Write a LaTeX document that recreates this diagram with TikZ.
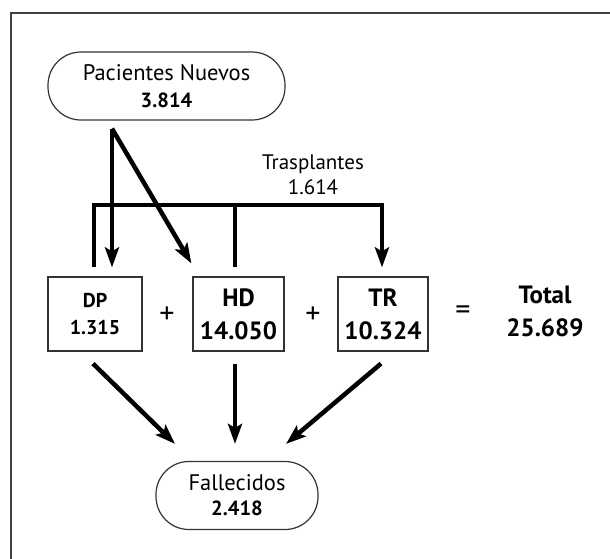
\documentclass[tikz,border=0pt]{standalone}
\usepackage{fontspec}
\setmainfont{PT Sans}
\usetikzlibrary{arrows.meta}

\tikzstyle{oval} = [draw=black!80, line width=1.2pt, rounded corners=33pt, align=center, inner sep=0pt, minimum height=68pt]
\tikzstyle{cell} = [draw=black!80, line width=1.2pt, align=center, inner sep=0pt, minimum width=92pt, minimum height=74pt]
\tikzstyle{flow} = [line width=4.5pt, -{Stealth[length=20pt,width=14pt,inset=4pt]}]
\tikzstyle{bar} = [line width=4.5pt]
\tikzstyle{plain} = [align=center, inner sep=0pt, font=\fontsize{21}{25}\selectfont]
\tikzstyle{sign} = [inner sep=0pt, font=\fontsize{30}{30}\selectfont]
\tikzstyle{big} = [align=center, inner sep=0pt, font=\bfseries\fontsize{25}{33}\selectfont]

\begin{document}
\begin{tikzpicture}[x=1pt, y=-1pt]
  \useasboundingbox (0,0) rectangle (610,558);
  \draw[line width=1.5pt, black!75] (11,13) rectangle (640,600);

  % entradas y salidas
  \node[oval, minimum width=237pt, font=\fontsize{20.5}{27}\selectfont] (pn) at (166.5,86) {{\fontsize{22.5}{27}\selectfont Pacientes Nuevos}\\\textbf{3.814}};
  \node[oval, minimum width=162pt, font=\fontsize{20.5}{25}\selectfont] (fa) at (237,495.5) {{\fontsize{22.5}{25}\selectfont Fallecidos}\\\textbf{2.418}};

  % modalidades
  \node[cell, minimum width=94pt, font=\bfseries\fontsize{20}{27}\selectfont] (dp) at (95,314) {DP\\1.315};
  \node[cell, minimum width=91pt, font=\bfseries\fontsize{25}{33}\selectfont] (hd) at (238.5,314) {HD\\14.050};
  \node[cell, minimum width=90pt, font=\bfseries\fontsize{25}{33}\selectfont] (tr) at (383,314) {TR\\10.324};
  \node[big] (tot) at (545,311.5) {Total\\25.689};
  \node[sign] (p1) at (167,315) {+};
  \node[sign] (p2) at (313,315) {+};
  \node[sign] (eq) at (463,313) {=};
  \node[plain] (tx) at (313,175) {Trasplantes\\1.614};

  \coordinate (src) at ([xshift=-54.5pt,yshift=-8pt]pn.south);
  \coordinate (tp) at (382,205);
  \coordinate (leg) at ([xshift=-3.5pt,yshift=9pt]hd.north);

  \draw[flow] (src) -- ([xshift=17pt,yshift=9pt]dp.north);
  \draw[flow] (src) -- ([xshift=-1pt,yshift=13pt]hd.north west);
  \draw[flow] ([xshift=-1pt,yshift=9pt]dp.north) |- (tp) -- ([xshift=-1pt,yshift=9pt]tr.north);
  \draw[bar] (leg) -- (leg |- tp);

  \draw[flow] ([xshift=-2pt,yshift=-12pt]dp.south) -- ([xshift=-62pt,yshift=17pt]fa.north);
  \draw[flow] ([xshift=-3.5pt,yshift=-12pt]hd.south) -- ([xshift=-2pt,yshift=17pt]fa.north);
  \draw[flow] ([xshift=-2pt,yshift=-12pt]tr.south) -- ([xshift=49pt,yshift=17pt]fa.north);
\end{tikzpicture}
\end{document}
